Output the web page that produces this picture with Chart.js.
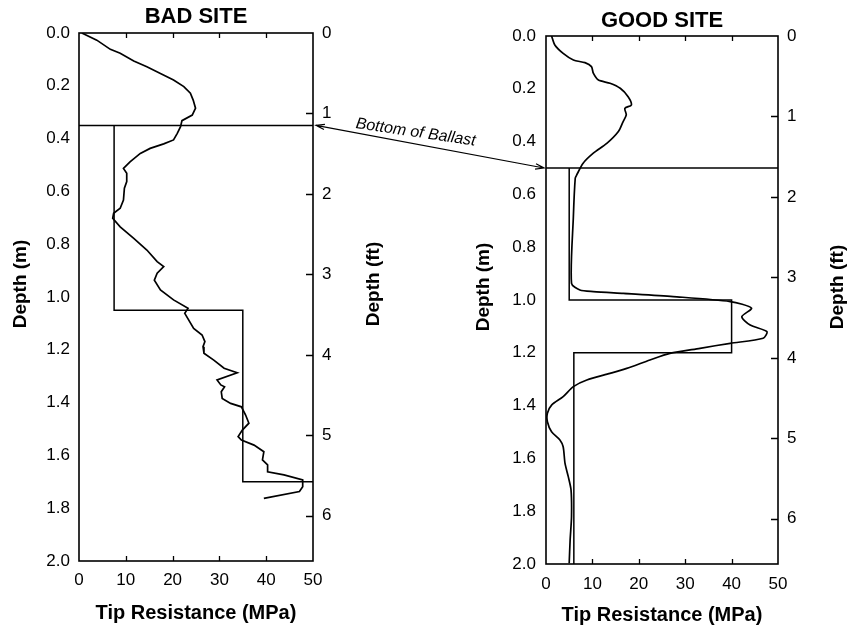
<!DOCTYPE html>
<html>
<head>
<meta charset="utf-8">
<title>Cone penetration profiles</title>
<script src="https://cdn.jsdelivr.net/npm/chart.js@4/dist/chart.umd.min.js"></script>
<style>
  html, body { margin: 0; padding: 0; background: #fff; }
  #wrap { position: relative; width: 849px; height: 631px; overflow: hidden; }
  canvas { position: absolute; top: 0; }
  #bad { left: 0; }
  #good { left: 440px; }
  #overlay { left: 0; pointer-events: none; }
</style>
</head>
<body>
<div id="wrap">
  <canvas id="bad" width="440" height="631" style="width:440px;height:631px"></canvas>
  <canvas id="good" width="409" height="631" style="width:409px;height:631px"></canvas>
  <canvas id="overlay" width="849" height="631" style="width:849px;height:631px"></canvas>
</div>
<script>
// ---- Bad site: measured cone tip resistance (MPa) against depth (m)
const badDepth = [0.000, 0.027, 0.062, 0.077, 0.106, 0.128, 0.153, 0.178, 0.203, 0.228,
  0.254, 0.285, 0.311, 0.332, 0.355, 0.380, 0.405, 0.420, 0.437, 0.456,
  0.488, 0.513, 0.531, 0.563, 0.588, 0.633, 0.664, 0.683, 0.702, 0.734,
  0.778, 0.822, 0.866, 0.885, 0.910, 0.936, 0.973, 1.011, 1.043, 1.062,
  1.119, 1.144, 1.169, 1.188, 1.213, 1.239, 1.270, 1.287, 1.314, 1.333,
  1.340, 1.359, 1.384, 1.403, 1.416, 1.447, 1.478, 1.504, 1.529, 1.542,
  1.561, 1.586, 1.617, 1.636, 1.662, 1.674, 1.693, 1.719, 1.737, 1.763];
const badTip = [0.6, 3.8, 6.7, 8.8, 11.7, 14.5, 17.4, 20.2, 22.4, 23.8,
  24.4, 24.9, 24.2, 22.0, 21.7, 21.0, 20.2, 18.1, 15.2, 13.1,
  10.9, 9.5, 10.2, 10.2, 9.7, 9.5, 8.8, 7.4, 7.2, 8.8,
  11.7, 14.5, 16.7, 18.1, 16.7, 16.1, 17.4, 20.2, 23.3, 22.6,
  24.5, 26.3, 26.9, 26.5, 26.7, 28.8, 31.0, 33.8, 29.5, 30.3,
  31.1, 30.4, 30.6, 32.4, 34.7, 35.6, 36.3, 34.9, 34.0, 34.7,
  37.4, 39.5, 39.2, 40.3, 40.3, 43.8, 47.8, 47.8, 47.1, 39.5];
// Bad site: idealised layer profile
const badLayerDepth = [0.35, 1.05, 1.05, 1.70, 1.70];
const badLayerTip   = [7.5, 7.5, 35, 35, 50];

// ---- Good site
const goodDepth = [0.000, 0.034, 0.066, 0.091, 0.101, 0.116, 0.141, 0.167, 0.179, 0.198,
  0.230, 0.261, 0.274, 0.299, 0.325, 0.362, 0.407, 0.444, 0.482, 0.527,
  0.539, 0.684, 0.937, 0.962, 0.968, 0.975, 0.987, 1.006, 1.031, 1.063,
  1.095, 1.120, 1.145, 1.164, 1.183, 1.202, 1.227, 1.259, 1.278, 1.303,
  1.328, 1.366, 1.398, 1.429, 1.461, 1.499, 1.530, 1.556, 1.619, 1.669,
  1.720, 1.821, 1.909, 1.997];
const goodTip = [1.2, 1.9, 3.7, 5.9, 8.4, 9.8, 10.2, 11.3, 13.8, 16.0,
  17.7, 18.4, 17.0, 17.3, 16.6, 15.6, 13.1, 10.2, 8.0, 6.6,
  6.3, 5.9, 5.5, 7.3, 10.2, 16.7, 27.4, 39.7, 44.3, 42.2,
  44.0, 47.6, 46.8, 39.7, 33.2, 26.7, 22.4, 17.4, 13.8, 8.8,
  5.9, 3.7, 1.2, 0.3, 0.3, 1.2, 3.0, 3.7, 4.1, 4.8,
  5.4, 5.5, 5.2, 5.0];
const goodLayerDepth = [0.5, 1.0, 1.0, 1.2, 1.2, 2.0];
const goodLayerTip   = [5, 5, 40, 40, 6, 6];

// Bottom of ballast (m) at each site
const ballastBad = 0.35;
const ballastGood = 0.5;

// Axis ranges and tick steps
const tipRange = [0, 50];
const tipStep = 10;
const depthRange = [0, 2.0];
const depthStep = 0.2;
const FT_PER_M = 1 / 0.3048;
const ftStep = 1;

const FONT = '"Liberation Sans", Arial, Helvetica, sans-serif';
Chart.defaults.font.family = FONT;
Chart.defaults.color = '#000';
const TICK_FONT = { size: 17, family: FONT };

const pts = (xs, ys) => xs.map((x, i) => ({ x, y: ys[i] }));

// Box outline, inward tick marks and the vertical depth captions
const framePlugin = {
  id: 'frame',
  afterDraw(chart, args, opts) {
    const { ctx, chartArea: a, scales } = chart;
    ctx.save();
    ctx.strokeStyle = '#000';
    ctx.lineWidth = 1.6;
    ctx.strokeRect(a.left, a.top, a.right - a.left, a.bottom - a.top);
    ctx.lineWidth = 1.3;
    ctx.beginPath();
    scales.x.ticks.forEach(t => {
      if (t.value <= tipRange[0] || t.value >= tipRange[1]) return;
      const px = Math.round(scales.x.getPixelForValue(t.value)) + 0.5;
      ctx.moveTo(px, a.bottom); ctx.lineTo(px, a.bottom - 5);
      ctx.moveTo(px, a.top); ctx.lineTo(px, a.top + 5);
    });
    scales.y2.ticks.forEach(t => {
      if (t.value <= 0) return;
      const py = Math.round(scales.y2.getPixelForValue(t.value)) + 0.5;
      ctx.moveTo(a.right, py); ctx.lineTo(a.right - 7, py);
    });
    ctx.stroke();

    ctx.fillStyle = '#000';
    ctx.font = 'bold 19px ' + FONT;
    ctx.textAlign = 'center';
    ctx.textBaseline = 'middle';
    const cy = (a.top + a.bottom) / 2 - 13;
    [[a.left - opts.leftGap, 'Depth (m)'], [a.right + opts.rightGap, 'Depth (ft)']].forEach(([x, txt]) => {
      ctx.save();
      ctx.translate(x, cy);
      ctx.rotate(-Math.PI / 2);
      ctx.fillText(txt, 0, 0);
      ctx.restore();
    });
    ctx.restore();
  }
};

function makeChart(id, cfg) {
  return new Chart(document.getElementById(id), {
    type: 'scatter',
    data: {
      datasets: [
        { data: pts(cfg.tip, cfg.depth), showLine: true, borderColor: '#000', borderWidth: 1.7,
          pointRadius: 0, tension: cfg.tension, yAxisID: 'y' },
        { data: pts(cfg.layerTip, cfg.layerDepth), showLine: true, borderColor: '#000', borderWidth: 1.5,
          pointRadius: 0, tension: 0, yAxisID: 'y' },
        { data: pts(tipRange, [cfg.ballast, cfg.ballast]), showLine: true, borderColor: '#000', borderWidth: 1.5,
          pointRadius: 0, tension: 0, yAxisID: 'y' }
      ]
    },
    options: {
      responsive: false,
      animation: false,
      events: [],
      layout: { padding: 0 },
      plugins: {
        legend: { display: false },
        tooltip: { enabled: false },
        title: {
          display: true, text: cfg.title, fullSize: false, color: '#000',
          font: { size: 22, weight: 'bold', family: FONT },
          padding: cfg.titlePad
        },
        frame: { leftGap: cfg.leftGap, rightGap: cfg.rightGap }
      },
      scales: {
        x: {
          type: 'linear', position: 'bottom', min: tipRange[0], max: tipRange[1],
          grid: { display: false, drawTicks: false, tickLength: 0 },
          border: { display: false },
          ticks: { stepSize: tipStep, padding: cfg.xTickPad, autoSkip: false, maxRotation: 0,
                   font: TICK_FONT, color: '#000' },
          title: { display: true, text: 'Tip Resistance (MPa)', color: '#000',
                   font: { size: 20, weight: 'bold' }, padding: { top: 0, bottom: cfg.xTitlePad } },
          afterFit: s => { s.height = cfg.xHeight; }
        },
        y: {
          type: 'linear', position: 'left', reverse: true, min: depthRange[0], max: depthRange[1],
          grid: { display: false, drawTicks: false, tickLength: 0 },
          border: { display: false },
          ticks: { stepSize: depthStep, padding: cfg.yTickPad, autoSkip: false, includeBounds: false,
                   font: TICK_FONT, color: '#000',
                   callback: v => Number(v).toFixed(1) },
          afterFit: s => { s.width = cfg.yWidth; }
        },
        y2: {
          type: 'linear', position: 'right', reverse: true,
          min: depthRange[0] * FT_PER_M, max: depthRange[1] * FT_PER_M,
          grid: { display: false, drawTicks: false, tickLength: 0 },
          border: { display: false },
          ticks: { stepSize: ftStep, padding: 9, autoSkip: false, includeBounds: false,
                   font: TICK_FONT, color: '#000',
                   callback: v => String(Math.round(v)) },
          afterFit: s => { s.width = cfg.y2Width; }
        }
      }
    },
    plugins: [framePlugin]
  });
}

const badChart = makeChart('bad', {
  title: 'BAD SITE', tip: badTip, depth: badDepth, tension: 0,
  layerTip: badLayerTip, layerDepth: badLayerDepth, ballast: ballastBad,
  titlePad: { top: 3.8, bottom: 2.8 }, xHeight: 70, xTickPad: 9.5, xTitlePad: 6,
  yWidth: 79, yTickPad: 9, y2Width: 127, leftGap: 58, rightGap: 61
});

const goodChart = makeChart('good', {
  title: 'GOOD SITE', tip: goodTip, depth: goodDepth, tension: 0.25,
  layerTip: goodLayerTip, layerDepth: goodLayerDepth, ballast: ballastGood,
  titlePad: { top: 7.8, bottom: 1.8 }, xHeight: 67, xTickPad: 10, xTitlePad: 4,
  yWidth: 106, yTickPad: 10, y2Width: 71, leftGap: 62, rightGap: 60
});

// Double-headed "Bottom of Ballast" arrow linking the two ballast lines
(function drawBallastArrow() {
  const cv = document.getElementById('overlay');
  const ctx = cv.getContext('2d');
  const goodOffset = document.getElementById('good').offsetLeft;
  const p1 = { x: badChart.scales.x.getPixelForValue(tipRange[1]) + 3,
               y: badChart.scales.y.getPixelForValue(ballastBad) };
  const p2 = { x: goodOffset + goodChart.scales.x.getPixelForValue(tipRange[0]) - 2,
               y: goodChart.scales.y.getPixelForValue(ballastGood) };
  const ang = Math.atan2(p2.y - p1.y, p2.x - p1.x);

  ctx.strokeStyle = '#000';
  ctx.lineWidth = 1.2;
  ctx.beginPath();
  ctx.moveTo(p1.x, p1.y);
  ctx.lineTo(p2.x, p2.y);
  const head = (p, dir) => {
    const L = 9, spread = 0.3;
    ctx.moveTo(p.x + L * Math.cos(dir + spread), p.y + L * Math.sin(dir + spread));
    ctx.lineTo(p.x, p.y);
    ctx.lineTo(p.x + L * Math.cos(dir - spread), p.y + L * Math.sin(dir - spread));
  };
  head(p1, ang);
  head(p2, ang + Math.PI);
  ctx.stroke();

  const t = 0.43;
  ctx.save();
  ctx.translate(p1.x + (p2.x - p1.x) * t, p1.y + (p2.y - p1.y) * t);
  ctx.rotate(ang * 0.8);
  ctx.fillStyle = '#000';
  ctx.font = 'italic 16px ' + FONT;
  ctx.textAlign = 'center';
  ctx.textBaseline = 'alphabetic';
  ctx.fillText('Bottom of Ballast', 0, -7);
  ctx.restore();
})();
</script>
</body>
</html>
